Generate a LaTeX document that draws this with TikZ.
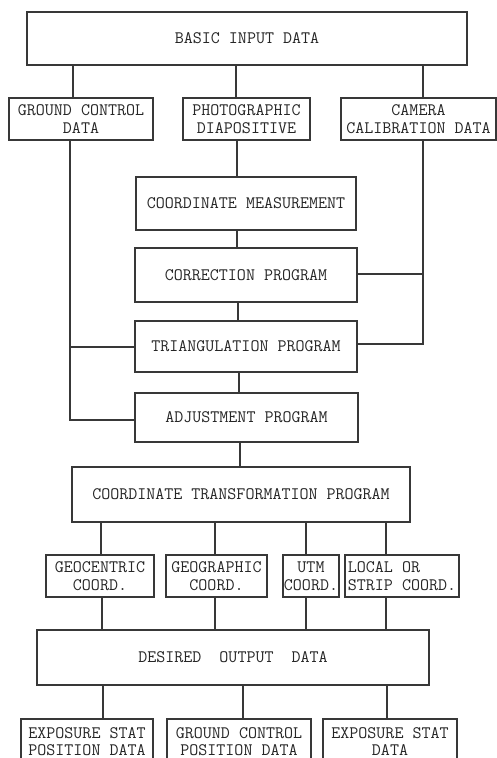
\documentclass[tikz,border=0pt]{standalone}
\usepackage{tikz}
\begin{document}
\begin{tikzpicture}[x=1pt,y=-1pt,
  line width=1.2pt, draw=black!78,
  box/.style={draw=black!78, line width=1.2pt, inner sep=0pt, align=center,
    text=black!85, font=\fontsize{17.5}{18}\selectfont\ttfamily},
  conn/.style={draw=black!78, line width=1.2pt}]
\useasboundingbox (0,0) rectangle (497,758);
\clip (0,0) rectangle (497,758);
\fill[white] (0,0) rectangle (497,758);
% boxes
\node[box, minimum width=440pt, minimum height=53pt] (basic) at (247,38.5) {BASIC INPUT DATA};
\node[box, minimum width=144pt, minimum height=42pt] (gcd) at (81,119) {GROUND CONTROL\\DATA};
\node[box, minimum width=127pt, minimum height=42pt] (photo) at (246.5,119) {PHOTOGRAPHIC\\DIAPOSITIVE};
\node[box, minimum width=155pt, minimum height=42pt] (camera) at (418.5,119) {CAMERA\\CALIBRATION DATA};
\node[box, minimum width=220pt, minimum height=53pt] (meas) at (246,203.5) {COORDINATE MEASUREMENT};
\node[box, minimum width=222pt, minimum height=54pt] (corr) at (246,275) {CORRECTION PROGRAM};
\node[box, minimum width=222pt, minimum height=51pt] (tri) at (246,346.5) {TRIANGULATION PROGRAM};
\node[box, minimum width=223pt, minimum height=49pt] (adj) at (246.5,417.5) {ADJUSTMENT PROGRAM};
\node[box, minimum width=338pt, minimum height=55pt] (ctp) at (241,494.5) {COORDINATE TRANSFORMATION PROGRAM};
\node[box, minimum width=108pt, minimum height=42pt] (geoc) at (100,576) {GEOCENTRIC\\COORD.};
\node[box, minimum width=101pt, minimum height=42pt] (geog) at (216.5,576) {GEOGRAPHIC\\COORD.};
\node[box, minimum width=56pt, minimum height=42pt] (utm) at (311,576) {UTM\\COORD.};
\node[box, minimum width=114pt, minimum height=42pt, align=left] (local) at (402,576) {LOCAL OR\\STRIP COORD.};
\node[box, minimum width=392pt, minimum height=55pt] (out) at (233,657.5) {DESIRED\ \ OUTPUT\ \ DATA};
\node[box, minimum width=132pt, minimum height=45pt, font=\fontsize{17.5}{17}\selectfont\ttfamily] (exp1) at (87,741.5) {EXPOSURE STAT\\POSITION DATA};
\node[box, minimum width=144pt, minimum height=45pt, font=\fontsize{17.5}{17}\selectfont\ttfamily] (gcp) at (239,741.5) {GROUND CONTROL\\POSITION DATA};
\node[box, minimum width=134pt, minimum height=45pt, font=\fontsize{17.5}{17}\selectfont\ttfamily] (exp2) at (390,741.5) {EXPOSURE STAT\\DATA};
% junction coordinates
\coordinate (jl1) at (70,347);
\coordinate (jl2) at (70,420);
\coordinate (jr1) at (423,274);
\coordinate (jr2) at (423,344);
% connectors
\draw[conn] (basic.south -| 73,0) -- (gcd.north -| 73,0);
\draw[conn] (basic.south -| 236,0) -- (photo.north -| 236,0);
\draw[conn] (basic.south -| 423,0) -- (camera.north -| 423,0);
\draw[conn] (photo.south -| 237,0) -- (meas.north -| 237,0);
\draw[conn] (meas.south -| 237,0) -- (corr.north -| 237,0);
\draw[conn] (corr.south -| 238,0) -- (tri.north -| 238,0);
\draw[conn] (tri.south -| 239,0) -- (adj.north -| 239,0);
\draw[conn] (adj.south -| 240,0) -- (ctp.north -| 240,0);
\draw[conn] (gcd.south -| jl1) -- (jl2) -- (adj.west |- jl2);
\draw[conn] (jl1) -- (tri.west |- jl1);
\draw[conn] (camera.south -| jr1) -- (jr2) -- (tri.east |- jr2);
\draw[conn] (jr1) -- (corr.east |- jr1);
\draw[conn] (ctp.south -| 101,0) -- (geoc.north -| 101,0);
\draw[conn] (ctp.south -| 215,0) -- (geog.north -| 215,0);
\draw[conn] (ctp.south -| 306,0) -- (utm.north -| 306,0);
\draw[conn] (ctp.south -| 386,0) -- (local.north -| 386,0);
\draw[conn] (geoc.south -| 102,0) -- (out.north -| 102,0);
\draw[conn] (geog.south -| 215,0) -- (out.north -| 215,0);
\draw[conn] (utm.south -| 306,0) -- (out.north -| 306,0);
\draw[conn] (local.south -| 386,0) -- (out.north -| 386,0);
\draw[conn] (out.south -| 103,0) -- (exp1.north -| 103,0);
\draw[conn] (out.south -| 243,0) -- (gcp.north -| 243,0);
\draw[conn] (out.south -| 387,0) -- (exp2.north -| 387,0);
\end{tikzpicture}
\end{document}
